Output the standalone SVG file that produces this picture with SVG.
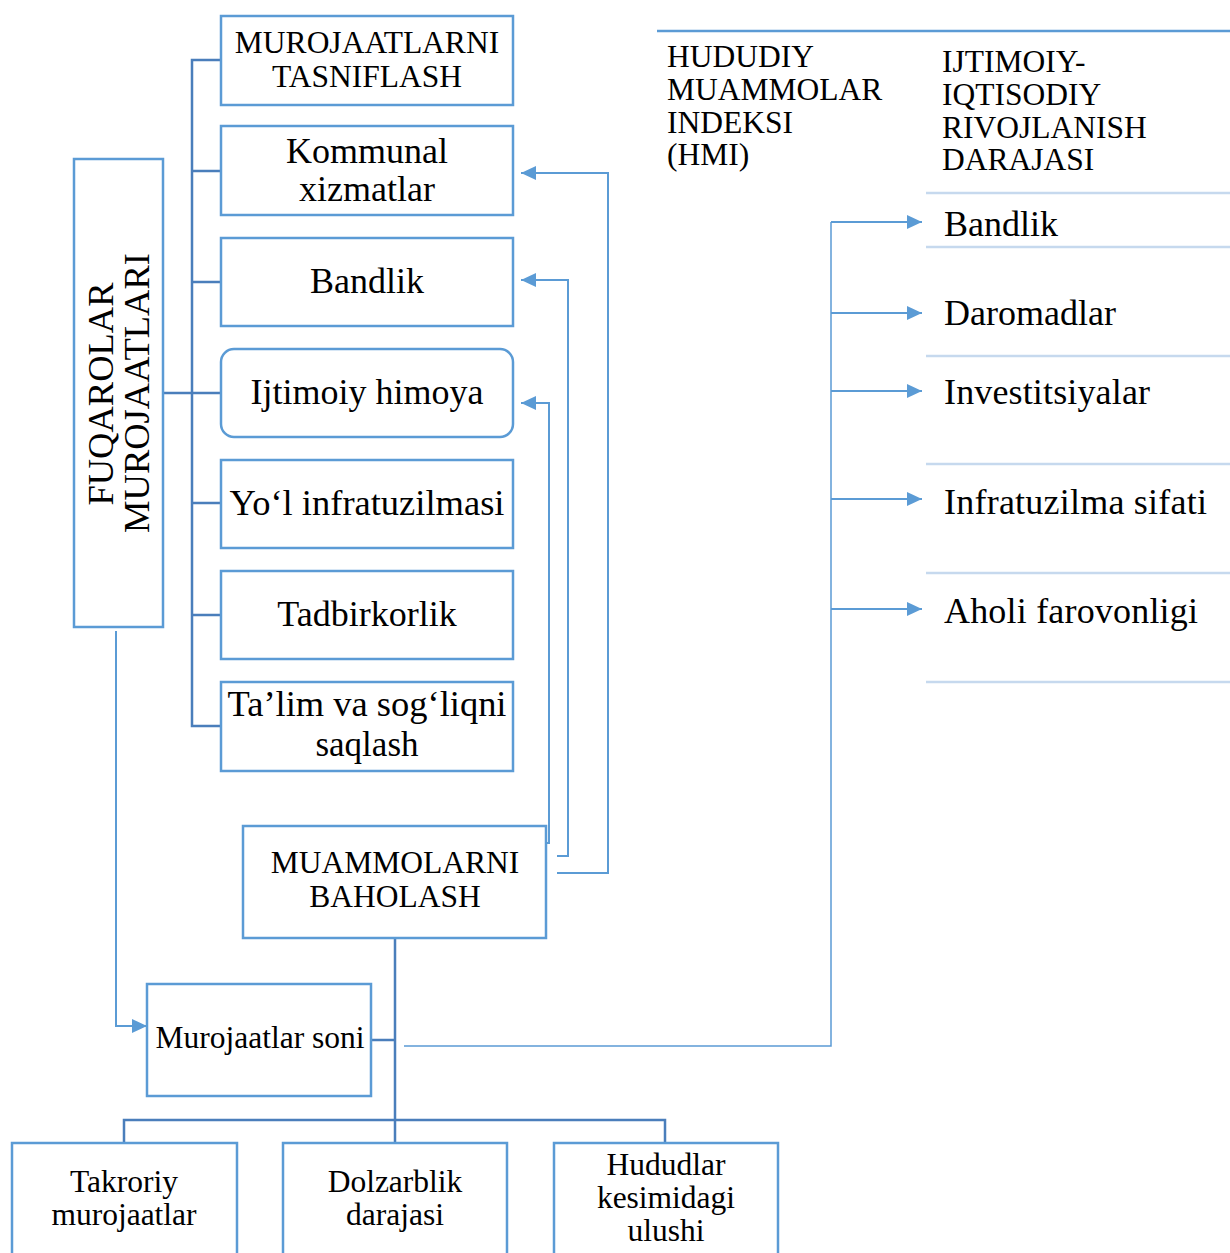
<svg xmlns="http://www.w3.org/2000/svg" width="1230" height="1253" viewBox="0 0 1230 1253">
<style>
.box{fill:#fff;stroke:#5B9BD5;stroke-width:2.5}
.t{font-family:"Liberation Serif","Times New Roman",serif;fill:#000;text-anchor:middle}
.tl{font-family:"Liberation Serif","Times New Roman",serif;fill:#000}
.f34{font-size:36px}
.f30{font-size:31.5px}
.spine{fill:none;stroke:#4A7EBB;stroke-width:2.5}
.arr{fill:none;stroke:#5B9BD5;stroke-width:2}
.thin{fill:none;stroke:#5B9BD5;stroke-width:1.5}
.light{fill:none;stroke:#C6D9EE;stroke-width:2.5}
</style>
<defs>
<marker id="ah" markerUnits="userSpaceOnUse" markerWidth="16" markerHeight="14" refX="15" refY="7" orient="auto">
<path d="M0,0 L15,7 L0,14 Z" fill="#5B9BD5"/>
</marker>
</defs>
<g id="connectors">
<path class="spine" d="M221,60 H192 V726 H221 M192,171 H221 M192,282 H221 M192,393 H221 M192,503 H221 M192,615 H221 M163,393 H192"/>
<path class="spine" d="M395,938 V1143 M371,1040 H395 M124,1143 V1120 H665 V1143"/>
<path class="arr" d="M557,873 H608 V173 H521" marker-end="url(#ah)"/>
<path class="arr" d="M557,856 H568 V280 H521" marker-end="url(#ah)"/>
<path class="arr" d="M546,843 H549 V403 H521" marker-end="url(#ah)"/>
<path class="arr" d="M116,631 V1026 H147" marker-end="url(#ah)"/>
<path class="thin" d="M404,1046 H831 V222"/>
<path class="arr" d="M831,222 H922" marker-end="url(#ah)"/>
<path class="arr" d="M831,313 H922" marker-end="url(#ah)"/>
<path class="arr" d="M831,391 H922" marker-end="url(#ah)"/>
<path class="arr" d="M831,499 H922" marker-end="url(#ah)"/>
<path class="arr" d="M831,609 H922" marker-end="url(#ah)"/>
<path d="M657,31 H1230" fill="none" stroke="#5B9BD5" stroke-width="2.5"/>
<path class="light" d="M926,193 H1230 M926,247 H1230 M926,356 H1230 M926,464 H1230 M926,573 H1230 M926,682 H1230"/>
</g>
<g id="fuqarolar">
<rect class="box" x="74" y="159" width="89" height="468"/>
<text class="t" style="font-size:36.5px" transform="translate(113,394) rotate(-90)">FUQAROLAR</text>
<text class="t" style="font-size:36.5px" transform="translate(149,393) rotate(-90)">MUROJAATLARI</text>
</g>
<g id="tasniflash">
<rect class="box" x="221" y="16" width="292" height="89"/>
<text class="t f30" x="367" y="53">MUROJAATLARNI</text>
<text class="t f30" x="367" y="87">TASNIFLASH</text>
</g>
<g id="kommunal">
<rect class="box" x="221" y="126" width="292" height="89"/>
<text class="t f34" x="367" y="163">Kommunal</text>
<text class="t f34" x="367" y="201">xizmatlar</text>
</g>
<g id="bandlik">
<rect class="box" x="221" y="238" width="292" height="88"/>
<text class="t f34" x="367" y="293">Bandlik</text>
</g>
<g id="ijtimoiy">
<rect class="box" x="221" y="349" width="292" height="88" rx="13"/>
<text class="t f34" x="367" y="404">Ijtimoiy himoya</text>
</g>
<g id="yol">
<rect class="box" x="221" y="460" width="292" height="88"/>
<text class="t f34" x="367" y="515" textLength="275" lengthAdjust="spacingAndGlyphs">Yo‘l infratuzilmasi</text>
</g>
<g id="tadbirkorlik">
<rect class="box" x="221" y="571" width="292" height="88"/>
<text class="t f34" x="367" y="626">Tadbirkorlik</text>
</g>
<g id="talim">
<rect class="box" x="221" y="682" width="292" height="89"/>
<text class="t" style="font-size:35px" x="367" y="716" textLength="279" lengthAdjust="spacingAndGlyphs">Ta’lim va sog‘liqni</text>
<text class="t" style="font-size:35px" x="367" y="756">saqlash</text>
</g>
<g id="baholash">
<rect class="box" x="243" y="826" width="303" height="112"/>
<text class="t f30" x="395" y="873">MUAMMOLARNI</text>
<text class="t f30" x="395" y="907">BAHOLASH</text>
</g>
<g id="murojaatlar-soni">
<rect class="box" x="147" y="984" width="224" height="112"/>
<text class="t f30" x="260" y="1048" textLength="209" lengthAdjust="spacingAndGlyphs">Murojaatlar soni</text>
</g>
<g id="takroriy">
<rect class="box" x="12" y="1143" width="225" height="120"/>
<text class="t f30" x="124" y="1192">Takroriy</text>
<text class="t f30" x="124" y="1225">murojaatlar</text>
</g>
<g id="dolzarblik">
<rect class="box" x="283" y="1143" width="224" height="120"/>
<text class="t f30" x="395" y="1192">Dolzarblik</text>
<text class="t f30" x="395" y="1225">darajasi</text>
</g>
<g id="hududlar">
<rect class="box" x="554" y="1143" width="224" height="120"/>
<text class="t f30" x="666" y="1175">Hududlar</text>
<text class="t f30" x="666" y="1208">kesimidagi</text>
<text class="t f30" x="666" y="1241">ulushi</text>
</g>
<g id="hmi">
<text class="tl f30" x="667" y="67">HUDUDIY</text>
<text class="tl f30" x="667" y="100">MUAMMOLAR</text>
<text class="tl f30" x="667" y="133">INDEKSI</text>
<text class="tl f30" x="667" y="165">(HMI)</text>
</g>
<g id="rivojlanish">
<text class="tl f30" x="942" y="72">IJTIMOIY-</text>
<text class="tl f30" x="942" y="105">IQTISODIY</text>
<text class="tl f30" x="942" y="138">RIVOJLANISH</text>
<text class="tl f30" x="942" y="170">DARAJASI</text>
</g>
<g id="indicators">
<text class="tl f34" x="944" y="236">Bandlik</text>
<text class="tl f34" x="944" y="325">Daromadlar</text>
<text class="tl f34" x="944" y="404" textLength="206" lengthAdjust="spacing">Investitsiyalar</text>
<text class="tl f34" x="944" y="514" textLength="263" lengthAdjust="spacing">Infratuzilma sifati</text>
<text class="tl f34" x="944" y="623" textLength="254" lengthAdjust="spacing">Aholi farovonligi</text>
</g>
</svg>
